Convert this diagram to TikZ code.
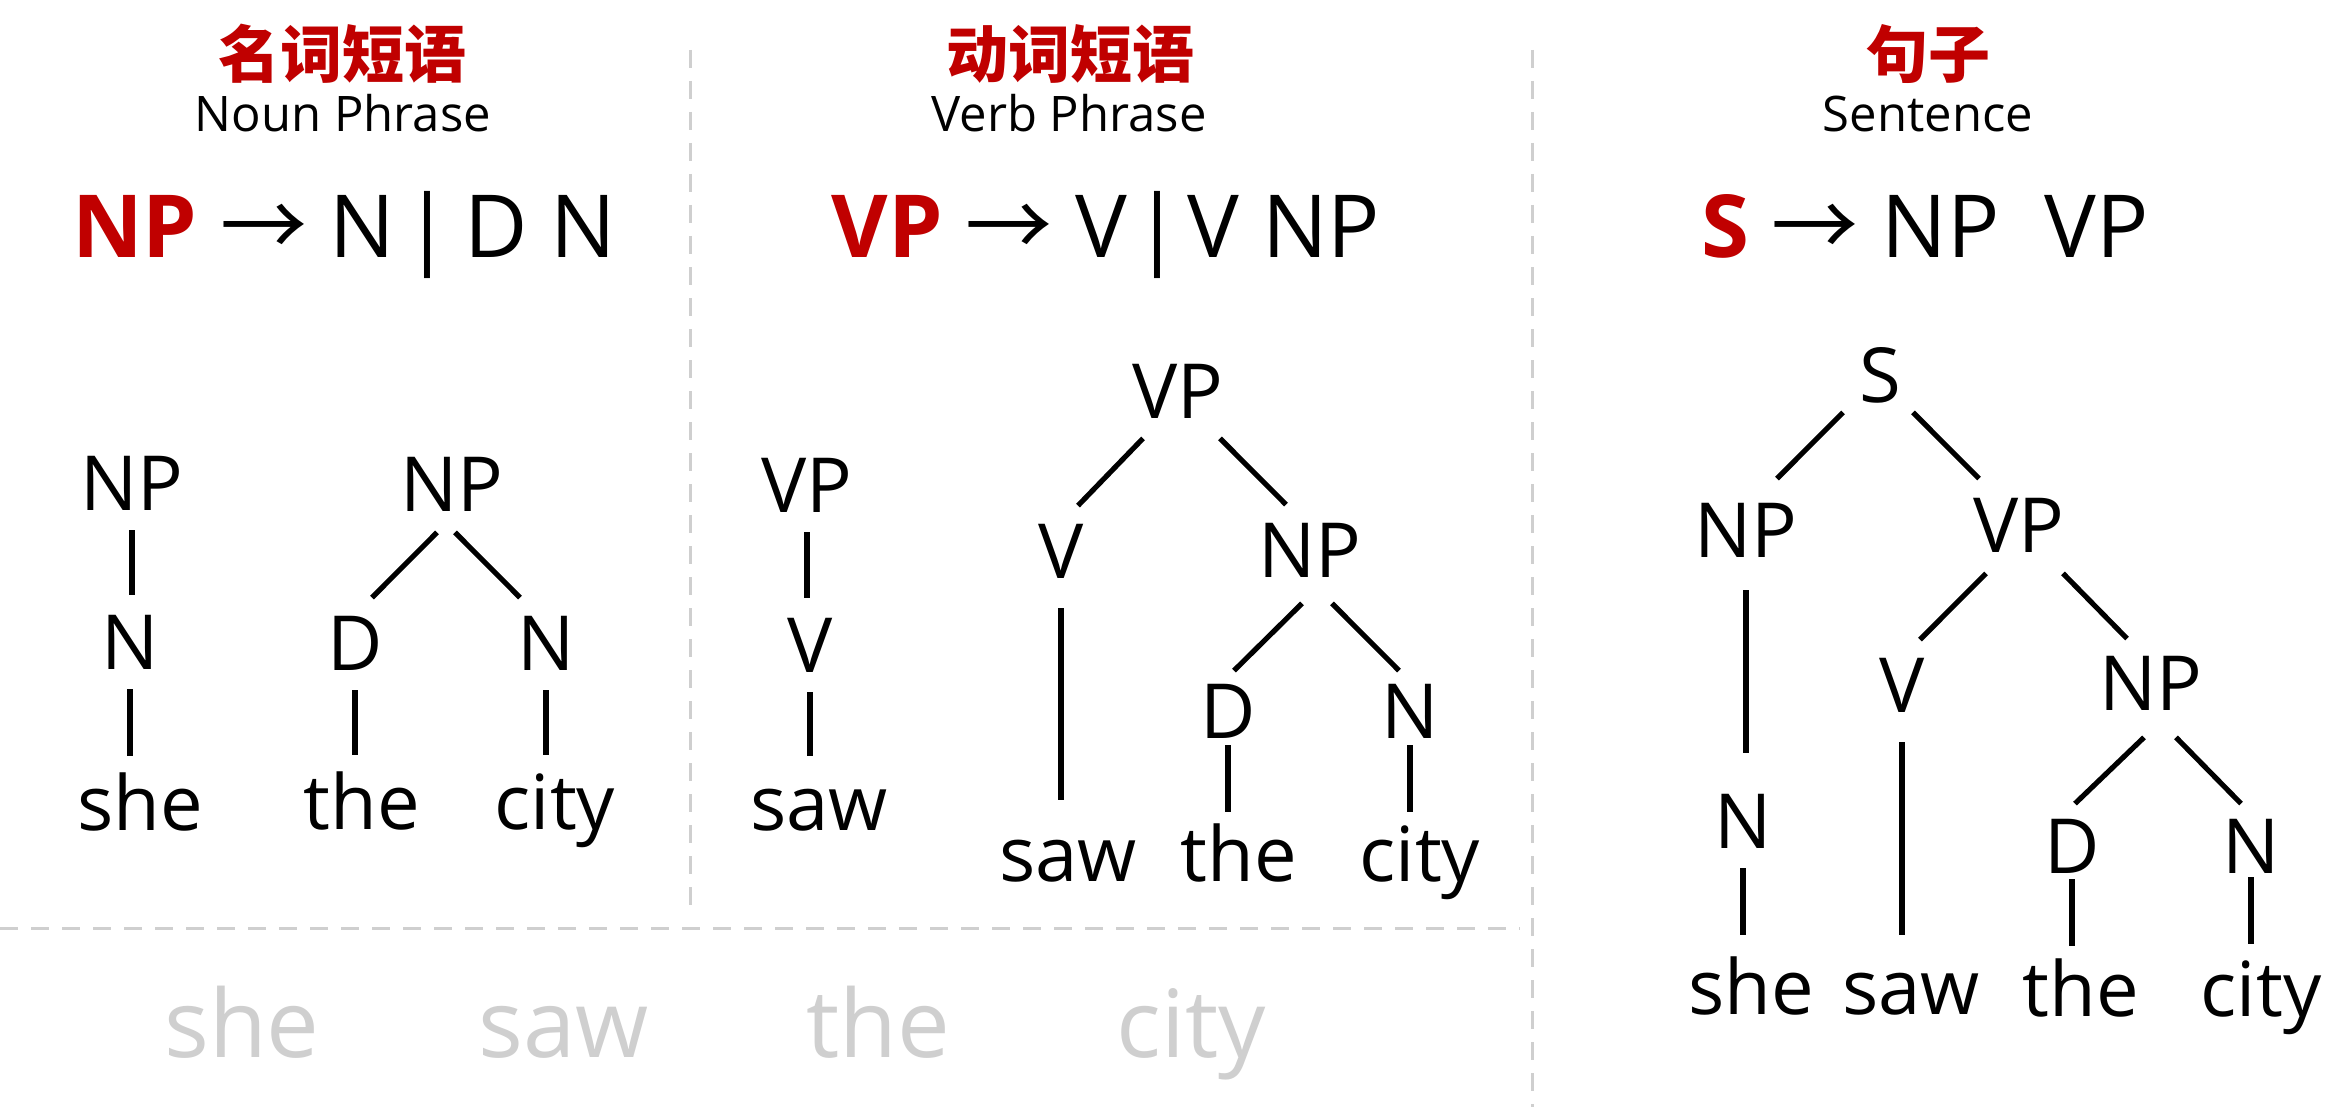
\documentclass[tikz,border=0pt]{standalone}
\usepackage{fontspec}
\setmainfont{Open Sans}
\newfontfamily\cjk{Noto Sans CJK SC}
\usepackage{xcolor}
\usepackage{tikz}
\usetikzlibrary{calc}
\definecolor{hilite}{HTML}{C00000}
\definecolor{faint}{HTML}{CFCFCF}
\tikzstyle{heading} = [font=\cjk\bfseries\fontsize{31}{36}\selectfont, text=hilite, inner sep=0pt, anchor=base]
\tikzstyle{subheading} = [font=\fontsize{24.5}{29}\selectfont, inner sep=0pt, anchor=base]
\tikzstyle{formula} = [font=\fontsize{43.5}{50}\selectfont, inner sep=0pt, anchor=base]
\tikzstyle{sym} = [font=\fontsize{38}{44}\selectfont, inner sep=0pt, anchor=base, text height=27pt, text depth=0pt]
\tikzstyle{ghost} = [font=\fontsize{47}{54}\selectfont, text=faint, inner sep=0pt, anchor=base]
\tikzstyle{branch} = [line width=2.6pt]
\tikzstyle{stem} = [line width=2.6pt, shorten <=10pt, shorten >=10pt]
\tikzstyle{divider} = [draw=faint, line width=1.5pt, dash pattern=on 9pt off 6.5pt]

\begin{document}
\begin{tikzpicture}[x=0.5pt, y=-0.5pt]
    \useasboundingbox (0,0) rectangle (2343,1107);
    \fill[white] (0,0) rectangle (2343,1107);

    \draw [divider] (690,50) -- (690,908);
    \draw [divider] (1532,50) -- (1532,1107);
    \draw [divider] (0,928) -- (1520,928);

    \node (npzh) [heading] at (342,78) {名词短语};
    \node (npen) [subheading] at (343,132) {Noun Phrase};
    \node (nprule) [formula] at (344,257) {{\bfseries\color{hilite}NP} {\cjk →} N \kern-7pt|\kern-5pt\ D N};

    \node (vpzh) [heading] at (1070,78) {动词短语};
    \node (vpen) [subheading] at (1069,132) {Verb Phrase};
    \node (vprule) [formula] at (1106,257) {{\bfseries\color{hilite}VP} {\cjk →} V \kern-8pt|\kern-8pt\ V NP};

    \node (szh) [heading] at (1928,78) {句子};
    \node (sen) [subheading] at (1928,132) {Sentence};
    \node (srule) [formula] at (1925,257) {{\bfseries\color{hilite}S} {\cjk →} NP\ \ VP};

    \node (np1) [sym] at (132,510) {NP};
    \node (n1) [sym] at (130,669) {N};
    \node (she1) [sym] at (140,830) {she};
    \node (np2) [sym] at (452,511) {NP};
    \node (d2) [sym] at (355,670) {D};
    \node (n2) [sym] at (546,670) {N};
    \node (the2) [sym] at (362,829) {the};
    \node (city2) [sym] at (555,829) {city};

    \node (vp3) [sym] at (807,512) {VP};
    \node (v3) [sym] at (810,672) {V};
    \node (saw3) [sym] at (819,830) {saw};
    \node (vp4) [sym] at (1178,418) {VP};
    \node (v4) [sym] at (1061,578) {V};
    \node (np4) [sym] at (1310,577) {NP};
    \node (d4) [sym] at (1228,738) {D};
    \node (n4) [sym] at (1410,738) {N};
    \node (saw4) [sym] at (1068,881) {saw};
    \node (the4) [sym] at (1239,881) {the};
    \node (city4) [sym] at (1420,881) {city};

    \node (s5) [sym] at (1880,402) {S};
    \node (np5) [sym] at (1746,557) {NP};
    \node (vp5) [sym] at (2019,552) {VP};
    \node (n5) [sym] at (1743,848) {N};
    \node (v5) [sym] at (1902,712) {V};
    \node (np6) [sym] at (2151,710) {NP};
    \node (d6) [sym] at (2072,873) {D};
    \node (n6) [sym] at (2251,873) {N};
    \node (she5) [sym] at (1751,1014) {she};
    \node (saw5) [sym] at (1911,1014) {saw};
    \node (the6) [sym] at (2081,1016) {the};
    \node (city6) [sym] at (2261,1016) {city};

    \node (she0) [ghost] at (242,1057) {she};
    \node (saw0) [ghost] at (564,1057) {saw};
    \node (the0) [ghost] at (878,1057) {the};
    \node (city0) [ghost] at (1191,1057) {city};

    \draw [stem] (np1.south) -- (np1.south |- n1.north);
    \draw [stem] (n1.south) -- (n1.south |- she1.north);
    \draw [branch] ($(np2.south)+(-15,21)$) -- ($(d2.north)+(17,-18)$);
    \draw [branch] ($(np2.south)+(3,21)$) -- ($(n2.north)+(-26,-18)$);
    \draw [stem] (d2.south) -- (d2.south |- the2.north);
    \draw [stem] (n2.south) -- (n2.south |- city2.north);

    \draw [stem] (vp3.south) -- (vp3.south |- v3.north);
    \draw [stem] (v3.south) -- (v3.south |- saw3.north);
    \draw [branch] ($(vp4.south)+(-35,20)$) -- ($(v4.north)+(17,-18)$);
    \draw [branch] ($(vp4.south)+(42,20)$) -- ($(np4.north)+(-24,-18)$);
    \draw [stem, shorten <=15pt, shorten >=13.5pt] (v4.south) -- (v4.south |- saw4.north);
    \draw [branch] ($(np4.south)+(-8,26)$) -- ($(d4.north)+(6,-13)$);
    \draw [branch] ($(np4.south)+(22,26)$) -- ($(n4.north)+(-11,-13)$);
    \draw [stem, shorten <=3.5pt, shorten >=7.5pt] (d4.south) -- (d4.south |- the4.north);
    \draw [stem, shorten <=3.5pt, shorten >=7.5pt] (n4.south) -- (n4.south |- city4.north);

    \draw [branch] ($(s5.south)+(-37,10)$) -- ($(np5.north)+(31,-24)$);
    \draw [branch] ($(s5.south)+(33,10)$) -- ($(vp5.north)+(-40,-19)$);
    \draw [stem, shorten <=16.5pt, shorten >=20.5pt] (np5.south) -- (np5.south |- n5.north);
    \draw [stem, shorten >=12.5pt] (n5.south) -- (n5.south |- she5.north);
    \draw [branch] ($(vp5.south)+(-33,21)$) -- ($(v5.north)+(18,-18)$);
    \draw [branch] ($(vp5.south)+(44,21)$) -- ($(np6.north)+(-24,-17)$);
    \draw [stem, shorten <=15pt, shorten >=12.5pt] (v5.south) -- (v5.south |- saw5.north);
    \draw [branch] ($(np6.south)+(-7,27)$) -- ($(d6.north)+(3,-15)$);
    \draw [branch] ($(np6.south)+(25,27)$) -- ($(n6.north)+(-10,-15)$);
    \draw [stem, shorten <=3pt, shorten >=8pt] (d6.south) -- (d6.south |- the6.north);
    \draw [stem, shorten <=2pt, shorten >=9pt] (n6.south) -- (n6.south |- city6.north);
\end{tikzpicture}
\end{document}
